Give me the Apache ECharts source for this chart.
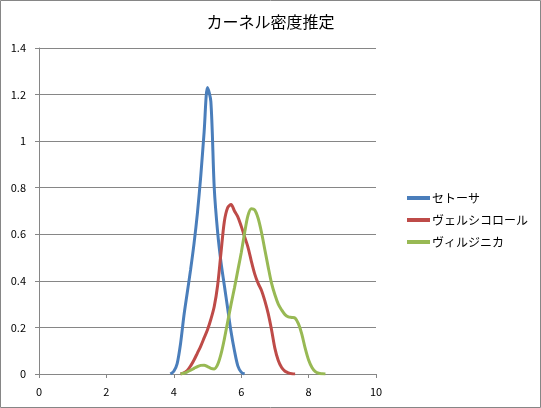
<!DOCTYPE html>
<html>
<head>
<meta charset="utf-8">
<script src="https://cdn.jsdelivr.net/npm/echarts@6/dist/echarts.min.js"></script>
<style>
  html, body { margin: 0; padding: 0; background: #fff; }
  #chart { width: 541px; height: 408px; }
</style>
</head>
<body>
<div id="chart"></div>
<script>
  var fontFamily = '"Noto Sans CJK JP", "Noto Sans", sans-serif';
  var titleText = 'カーネル密度推定';
  var seriesNames = ['セトーサ', 'ヴェルシコロール', 'ヴィルジニカ'];
  var colors = ['#4a7ebb', '#be4b48', '#98b954'];

  // sepal length grid (cm)
  var xs = [3.8, 3.9, 4.0, 4.1, 4.2, 4.3, 4.4, 4.5, 4.6, 4.7, 4.8, 4.9,
    5.0, 5.1, 5.2, 5.3, 5.4, 5.5, 5.6, 5.7, 5.8, 5.9, 6.0, 6.1, 6.2, 6.3,
    6.4, 6.5, 6.6, 6.7, 6.8, 6.9, 7.0, 7.1, 7.2, 7.3, 7.4, 7.5, 7.6, 7.7,
    7.8, 7.9, 8.0, 8.1, 8.2, 8.3, 8.4, 8.5, 8.6];

  var setosa = [null, 0, 0.012, 0.045, 0.13, 0.25, 0.35, 0.45, 0.56, 0.69, 0.85, 1.04,
    1.23, 1.17, 0.80, 0.61, 0.48, 0.38, 0.28, 0.18, 0.10, 0.035, 0.008, 0, null, null,
    null, null, null, null, null, null, null, null, null, null, null, null, null, null,
    null, null, null, null, null, null, null, null, null];

  var versicolor = [null, null, null, null, 0, 0.005, 0.015, 0.035, 0.06, 0.09, 0.12, 0.155,
    0.19, 0.235, 0.29, 0.38, 0.52, 0.655, 0.715, 0.728, 0.70, 0.675, 0.635, 0.59, 0.545, 0.485,
    0.43, 0.39, 0.36, 0.315, 0.26, 0.19, 0.11, 0.058, 0.028, 0.012, 0.005, 0.001, 0, null,
    null, null, null, null, null, null, null, null, null];

  var virginica = [null, null, null, null, 0, 0.003, 0.009, 0.016, 0.024, 0.032, 0.037, 0.038,
    0.032, 0.024, 0.022, 0.04, 0.085, 0.15, 0.225, 0.30, 0.37, 0.445, 0.52, 0.605, 0.68, 0.71,
    0.705, 0.67, 0.61, 0.535, 0.46, 0.39, 0.34, 0.30, 0.275, 0.255, 0.245, 0.243, 0.24, 0.215,
    0.17, 0.11, 0.06, 0.028, 0.01, 0.003, 0.001, 0, null];

  var xTicks = [0, 2, 4, 6, 8, 10];
  var yTicks = [0, 0.2, 0.4, 0.6, 0.8, 1, 1.2, 1.4];

  function pairs (values) {
    var out = [];
    for (var i = 0; i < xs.length; i++) {
      out.push(values[i] === null ? [xs[i], '-'] : [xs[i], values[i]]);
    }
    return out;
  }

  function makeSeries (name, values, color) {
    return {
      name: name,
      type: 'line',
      data: pairs(values),
      smooth: 0.3,
      showSymbol: false,
      connectNulls: false,
      lineStyle: { color: color, width: 3 },
      itemStyle: { color: color }
    };
  }

  var chart = echarts.init(document.getElementById('chart'), null, { renderer: 'canvas' });

  chart.setOption({
    animation: false,
    backgroundColor: '#fff',
    textStyle: { fontFamily: fontFamily },
    title: {
      text: titleText,
      left: 'center',
      top: 9,
      textStyle: { fontFamily: fontFamily, fontSize: 16, fontWeight: 'normal', color: '#000' }
    },
    graphic: [{
      type: 'rect',
      shape: { x: 0.5, y: 0.5, width: 540, height: 407 },
      style: { fill: null, stroke: '#868686', lineWidth: 1 },
      silent: true
    }],
    legend: {
      orient: 'vertical',
      left: 402,
      top: 187,
      itemWidth: 23,
      itemHeight: 4,
      itemGap: 10,
      icon: 'rect',
      data: seriesNames,
      textStyle: { fontFamily: fontFamily, fontSize: 12, color: '#000', padding: [0, 0, 0, -3] }
    },
    grid: {
      left: 39,
      top: 48,
      right: 165,
      bottom: 34
    },
    xAxis: {
      type: 'value',
      min: xTicks[0],
      max: xTicks[xTicks.length - 1],
      interval: 2,
      axisLine: { lineStyle: { color: '#868686', width: 1 } },
      axisTick: { show: true, length: 4, lineStyle: { color: '#868686' } },
      axisLabel: { color: '#000', fontSize: 11, margin: 12, fontFamily: fontFamily },
      splitLine: { show: false }
    },
    yAxis: {
      type: 'value',
      min: yTicks[0],
      max: yTicks[yTicks.length - 1],
      interval: 0.2,
      axisLine: { show: true, lineStyle: { color: '#868686', width: 1 } },
      axisTick: { show: true, length: 4, lineStyle: { color: '#868686' } },
      axisLabel: {
        color: '#000',
        fontSize: 11,
        margin: 13,
        fontFamily: fontFamily,
        formatter: function (v) { return String(+v.toFixed(1)); }
      },
      splitLine: { show: true, lineStyle: { color: '#868686', width: 1 } }
    },
    series: [
      makeSeries(seriesNames[0], setosa, colors[0]),
      makeSeries(seriesNames[1], versicolor, colors[1]),
      makeSeries(seriesNames[2], virginica, colors[2])
    ]
  });
</script>
</body>
</html>
